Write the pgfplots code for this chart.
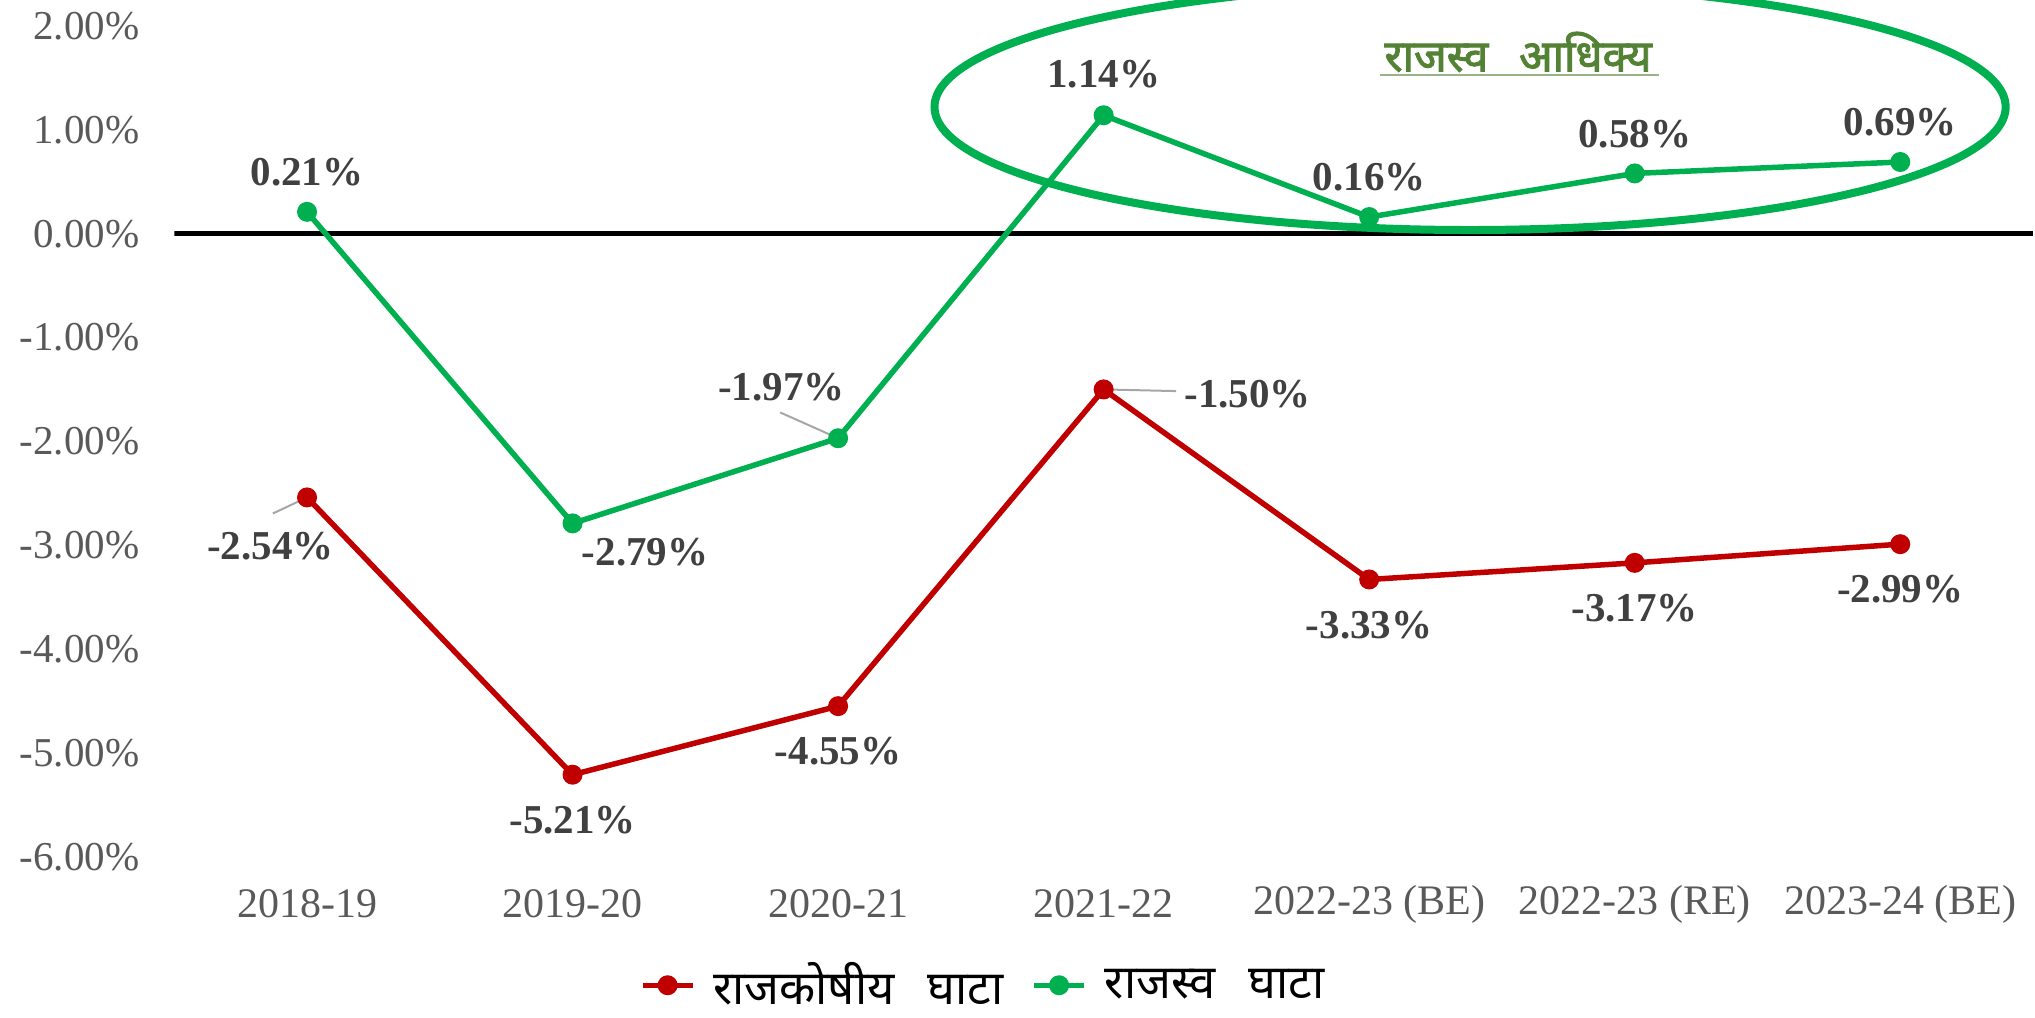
\documentclass[border=0pt]{standalone}
\usepackage{fontspec}
\setmainfont{Liberation Serif}
\newfontfamily\devfont[Script=Devanagari]{Noto Sans}
\newfontfamily\devbold[Script=Devanagari, FakeBold=2.2]{Noto Sans}
\usepackage{pgfplots}
\pgfplotsset{compat=1.18}
\usepackage{pgfplotstable}

\definecolor{fiscred}{HTML}{C00000}
\definecolor{revgreen}{HTML}{00B050}
\definecolor{tickgray}{HTML}{595959}
\definecolor{labgray}{HTML}{404040}
\definecolor{titlegreen}{HTML}{548235}
\definecolor{leadgray}{HTML}{A6A6A6}

\pgfplotstableread{
x y dx dy
0 -2.54 -18.3 -24.2
1 -5.21 0 -22.7
2 -4.55 0 -22.5
3 -1.50 72 -2.5
4 -3.33 0 -23
5 -3.17 0 -22.7
6 -2.99 0 -22.7
}\fiscal

\pgfplotstableread{
x y dx dy
0 0.21 0 20
1 -2.79 36.3 -14.2
2 -1.97 -28.3 25.5
3 1.14 0 20.5
4 0.16 0 20
5 0.58 0 19.5
6 0.69 0 19.7
}\revenue

\begin{document}
\begin{tikzpicture}
\begin{axis}[
  scale only axis, width=929pt, height=428.2pt,
  xmin=-0.5, xmax=6.5, ymin=-6, ymax=2.25,
  xtick={0,...,6},
  xticklabels={2018-19,2019-20,2020-21,2021-22,2022-23 (BE),2022-23 (RE),2023-24 (BE)},
  ytick={-6,-5,-4,-3,-2,-1,0,1,2},
  /pgf/number format/assume math mode=true,
  yticklabel={\pgfmathprintnumber[fixed,fixed zerofill,precision=2]{\tick}\%},
  axis line style={draw=none},
  major tick length=0pt,
  tick style={draw=none},
  yticklabel style={font=\fontsize{20.5}{24}\selectfont, text=tickgray, anchor=east, xshift=-14pt},
  xticklabel style={font=\fontsize{21}{25}\selectfont, text=tickgray, anchor=center, yshift=-23.7pt},
  legend style={at={(axis description cs:0.4357,-0.150)}, anchor=center, draw=none, fill=none,
    inner sep=0pt, font=\devfont\fontsize{23.5}{26}\selectfont, legend columns=2,
    /tikz/every odd column/.append style={column sep=7pt},
    /tikz/every even column/.append style={column sep=12pt}},
  legend image code/.code={\draw[mark repeat=2,mark phase=2,#1] plot coordinates {(0pt,0pt) (12.5pt,0pt) (25pt,0pt)};},
  nodes near coords={\pgfmathprintnumber[fixed,fixed zerofill,precision=2]{\pgfplotspointmeta}\%},
  visualization depends on={\thisrow{dx}\as\mydx},
  visualization depends on={\thisrow{dy}\as\mydy},
  nodes near coords style={font=\fontsize{20.5}{24}\selectfont\bfseries, text=labgray, anchor=center, xshift=\mydx pt, yshift=\mydy pt},
]
\draw[black, line width=2.5pt] (axis cs:-0.5,0) -- (axis cs:6.5,0);
\addplot[fiscred, line width=2.75pt, mark=*, mark size=3.6pt, mark options={solid, fill=fiscred}]
  table[x=x, y=y, meta=y] {\fiscal};
\addlegendentry{राजकोषीय\hspace{0.7em}घाटा}
\addplot[revgreen, line width=2.75pt, mark=*, mark size=3.6pt, mark options={solid, fill=revgreen}]
  table[x=x, y=y, meta=y] {\revenue};
\addlegendentry{राजस्व\hspace{0.7em}घाटा}
\draw[leadgray, line width=1pt] (axis cs:-0.129,-2.695) -- (axis cs:0,-2.54);
\draw[leadgray, line width=1pt] (axis cs:1.782,-1.722) -- (axis cs:2,-1.97);
\draw[leadgray, line width=1pt] (axis cs:3,-1.50) -- (axis cs:3.273,-1.516);
\draw[revgreen, line width=4pt] (axis cs:4.38,1.22) ellipse [x radius=2.017, y radius=1.185];
\node[font=\devbold\fontsize{22}{26}\selectfont, text=titlegreen] at (axis cs:4.561,1.75) {राजस्व\hspace{0.7em}आधिक्य};
\draw[titlegreen!60, line width=1pt] (axis cs:4.04,1.528) -- (axis cs:5.091,1.528);
\end{axis}
\pgfresetboundingbox
\path[use as bounding box] ([xshift=-87.1pt,yshift=-80.2pt]current axis.south west) rectangle ([xshift=1pt]current axis.north east);
\end{tikzpicture}
\end{document}
